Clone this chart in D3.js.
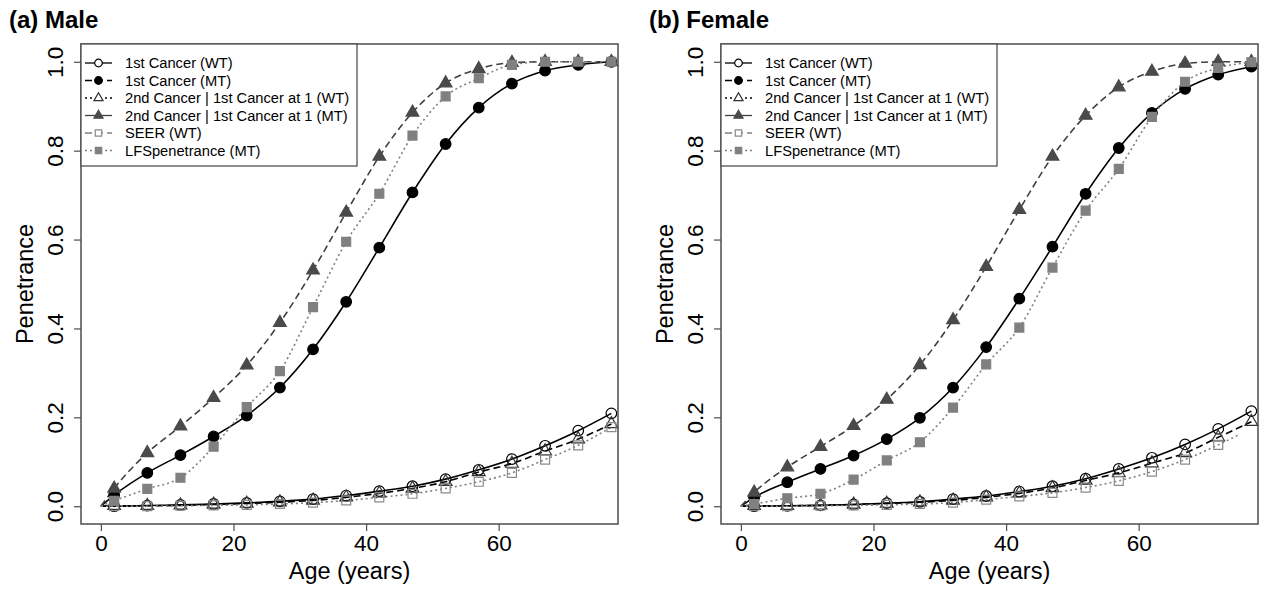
<!DOCTYPE html>
<html>
<head>
<meta charset="utf-8">
<script src="https://cdn.jsdelivr.net/npm/d3@7"></script>
<style>
  body { margin: 0; background: #fff; }
  svg text { font-family: "Liberation Sans", Arial, sans-serif; fill: #000; }
</style>
</head>
<body>
<svg width="1266" height="589"></svg>
<script>
// ages of the curve points (markers are drawn at 2, 7, ..., 77)
var ages = [0, 2, 7, 12, 17, 22, 27, 32, 37, 42, 47, 52, 57, 62, 67, 72, 77];
var agesSeerF = [0, 2, 7, 12, 17, 22, 27, 32, 37, 42, 47, 52, 57, 62, 67, 72, 75];
var xTicks = [0, 20, 40, 60];
var yTicks = [0, 0.2, 0.4, 0.6, 0.8, 1.0];

// (a) Male
var male1WT  = [0, 0, 0.0015, 0.003, 0.005, 0.0075, 0.011, 0.016, 0.024, 0.034, 0.045, 0.061, 0.082, 0.106, 0.136, 0.170, 0.209];
var male1MT  = [0, 0.025, 0.075, 0.115, 0.157, 0.204, 0.267, 0.353, 0.460, 0.582, 0.706, 0.815, 0.897, 0.951, 0.980, 0.993, 1.0];
var male2WT  = [0, 0.001, 0.001, 0.002, 0.004, 0.006, 0.009, 0.013, 0.020, 0.029, 0.040, 0.055, 0.077, 0.096, 0.124, 0.151, 0.185];
var male2MT  = [0, 0.040, 0.120, 0.180, 0.244, 0.317, 0.413, 0.531, 0.661, 0.787, 0.886, 0.952, 0.984, 0.998, 1.0, 1.0, 1.0];
var maleSeer = [0, 0, 0, 0.001, 0.002, 0.003, 0.005, 0.008, 0.013, 0.020, 0.028, 0.040, 0.055, 0.075, 0.105, 0.137, 0.178];
var maleLfs  = [0, 0.012, 0.039, 0.064, 0.134, 0.223, 0.304, 0.448, 0.595, 0.703, 0.834, 0.922, 0.963, 0.993, 1.0, 1.0, 1.0];

// (b) Female
var female1WT  = [0, 0, 0.001, 0.002, 0.004, 0.007, 0.010, 0.016, 0.023, 0.033, 0.045, 0.062, 0.084, 0.109, 0.139, 0.174, 0.214];
var female1MT  = [0, 0.020, 0.054, 0.084, 0.114, 0.151, 0.199, 0.267, 0.358, 0.467, 0.584, 0.703, 0.806, 0.885, 0.939, 0.971, 0.989];
var female2WT  = [0, 0.001, 0.001, 0.002, 0.004, 0.006, 0.009, 0.013, 0.020, 0.029, 0.041, 0.058, 0.075, 0.097, 0.120, 0.155, 0.190];
var female2MT  = [0, 0.031, 0.088, 0.134, 0.181, 0.240, 0.318, 0.419, 0.539, 0.667, 0.787, 0.879, 0.943, 0.978, 0.996, 1.0, 1.0];
var femaleSeer = [0, 0, 0, 0.001, 0.002, 0.003, 0.005, 0.008, 0.015, 0.022, 0.030, 0.042, 0.057, 0.078, 0.105, 0.138, 0.160];
var femaleLfs  = [0, 0.005, 0.018, 0.028, 0.060, 0.103, 0.144, 0.222, 0.319, 0.402, 0.537, 0.665, 0.759, 0.876, 0.955, 0.986, 0.999];

var legendLabels = ["1st Cancer (WT)", "1st Cancer (MT)", "2nd Cancer | 1st Cancer at 1 (WT)",
                    "2nd Cancer | 1st Cancer at 1 (MT)", "SEER (WT)", "LFSpenetrance (MT)"];

var DASH = "7,4", DOT = "2,3";
// plot style and legend style (legend line types differ from the plotted ones, as in the original)
var styles = [
  {shape: "circle",   fill: "none",    stroke: "#000",    line: null, legLine: null},
  {shape: "circle",   fill: "#000",    stroke: "#000",    line: null, legLine: DASH},
  {shape: "triangle", fill: "none",    stroke: "#333",    line: DASH, legLine: DOT},
  {shape: "triangle", fill: "#4a4a4a", stroke: "#4a4a4a", line: DASH, legLine: null},
  {shape: "square",   fill: "none",    stroke: "#8a8a8a", line: DOT,  legLine: DASH},
  {shape: "square",   fill: "#808080", stroke: "#808080", line: DOT,  legLine: DOT}
];

var panels = [
  {title: "(a) Male", dx: 0, series: [
    {x: ages, y: male1WT}, {x: ages, y: male1MT}, {x: ages, y: male2WT},
    {x: ages, y: male2MT}, {x: ages, y: maleSeer}, {x: ages, y: maleLfs}]},
  {title: "(b) Female", dx: 640, series: [
    {x: ages, y: female1WT}, {x: ages, y: female1MT}, {x: ages, y: female2WT},
    {x: ages, y: female2MT}, {x: agesSeerF, y: femaleSeer}, {x: ages, y: femaleLfs}]}
];

var margin = {top: 44, left: 81},
    width = 537, height = 480;

var svg = d3.select("svg");

var x = d3.scaleLinear().domain([-3, 78]).range([0, width]);
var y = d3.scaleLinear().domain([-0.04, 1.04]).range([height, 0]);

function marker(sel, st, scale) {
  if (st.shape === "circle") {
    sel.append("circle").attr("r", 5.3 * scale);
  } else {
    var sym = st.shape === "triangle" ? d3.symbolTriangle : d3.symbolSquare;
    var size = st.shape === "triangle" ? 70 : 80;
    sel.append("path").attr("d", d3.symbol().type(sym).size(size * scale * scale)());
  }
  sel.selectAll("circle, path")
    .attr("fill", st.fill)
    .attr("stroke", st.stroke)
    .attr("stroke-width", 1.2);
}

panels.forEach(function(p) {
  var g = svg.append("g")
      .attr("transform", "translate(" + (margin.left + p.dx) + "," + margin.top + ")");

  // curves
  p.series.forEach(function(s, i) {
    var st = styles[i];
    var pts = s.x.map(function(a, k) { return [a, s.y[k]]; });
    var line = d3.line()
        .x(function(d) { return x(d[0]); })
        .y(function(d) { return y(d[1]); })
        .curve(d3.curveMonotoneX);
    g.append("path")
      .datum(pts)
      .attr("d", line)
      .attr("fill", "none")
      .attr("stroke", st.line === DOT ? "#808080" : (i === 3 ? "#404040" : "#000"))
      .attr("stroke-width", 1.6)
      .attr("stroke-dasharray", st.line);
  });

  // markers every 5 years
  p.series.forEach(function(s, i) {
    var st = styles[i];
    var pts = s.x.map(function(a, k) { return [a, s.y[k]]; })
        .filter(function(d) { return d[0] % 5 === 2; });
    g.selectAll(".m" + i)
      .data(pts)
      .enter()
      .append("g")
        .attr("transform", function(d) { return "translate(" + x(d[0]) + "," + y(d[1]) + ")"; })
        .each(function() { marker(d3.select(this), st, 1); });
  });

  // frame
  g.append("rect")
    .attr("width", width).attr("height", height)
    .attr("fill", "none").attr("stroke", "#4d4d4d").attr("stroke-width", 1.5);

  // X axis
  var xa = g.append("g")
    .attr("transform", "translate(0," + height + ")")
    .call(d3.axisBottom(x).tickValues(xTicks).tickSize(7).tickPadding(4));
  xa.select(".domain").remove();
  xa.selectAll("line").attr("stroke", "#4d4d4d").attr("stroke-width", 1.2);
  xa.selectAll("text").style("font-size", "22.5px").attr("font-family", null);

  // Y axis, labels parallel to the axis
  var ya = g.append("g")
    .call(d3.axisLeft(y).tickValues(yTicks).tickSize(7).tickFormat(d3.format(".1f")));
  ya.select(".domain").remove();
  ya.selectAll("line").attr("stroke", "#4d4d4d").attr("stroke-width", 1.2);
  ya.selectAll("text")
    .attr("transform", "rotate(-90)")
    .attr("x", 0).attr("y", -18).attr("dy", 0)
    .attr("text-anchor", "middle")
    .style("font-size", "22.5px").attr("font-family", null);

  // axis titles
  g.append("text")
    .attr("x", width / 2).attr("y", 535)
    .attr("text-anchor", "middle")
    .style("font-size", "23.5px")
    .text("Age (years)");
  g.append("text")
    .attr("transform", "translate(-48," + (height / 2) + ")rotate(-90)")
    .attr("text-anchor", "middle")
    .style("font-size", "23.5px")
    .text("Penetrance");

  // panel title
  svg.append("text")
    .attr("x", 9 + p.dx).attr("y", 28)
    .style("font-size", "24px").style("font-weight", "bold")
    .text(p.title);

  // legend
  var lg = g.append("g");
  lg.append("rect")
    .attr("width", 276).attr("height", 122)
    .attr("fill", "#fff").attr("stroke", "#444").attr("stroke-width", 1.2);
  legendLabels.forEach(function(lab, i) {
    var st = styles[i];
    var row = lg.append("g").attr("transform", "translate(0," + (19 + i * 17.5) + ")");
    var col = (i >= 4) ? "#808080" : (i === 3 ? "#404040" : "#000");
    row.append("line")
      .attr("x1", 4).attr("x2", 31)
      .attr("stroke", col).attr("stroke-width", 1.3)
      .attr("stroke-dasharray", st.legLine);
    var mk = row.append("g").attr("transform", "translate(17.5,0)");
    marker(mk, st, 0.72);
    mk.selectAll("circle, path").filter(function() { return st.fill === "none"; }).attr("fill", "#fff");
    row.append("text")
      .attr("x", 44).attr("y", 5)
      .style("font-size", "14.7px")
      .text(lab);
  });
});
</script>
</body>
</html>
